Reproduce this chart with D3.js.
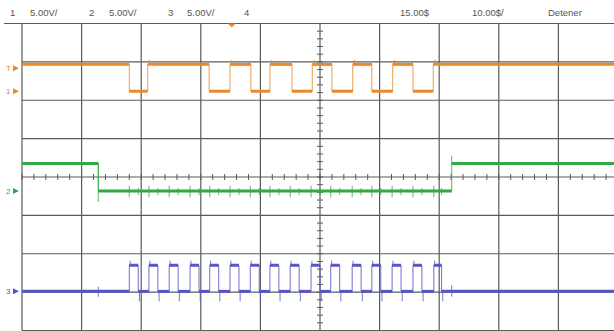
<!DOCTYPE html>
<html>
<head>
    <title>Scope capture</title>
    <script src="https://d3js.org/d3.v7.min.js"></script>
    <style>
        body { margin: 0; background: #fff; }
        .hdr { font-family: "Liberation Sans", sans-serif; font-size: 9.5px; fill: #555; }
        .grid line { stroke: #5a5a5a; stroke-width: 1.2; }
        .minor line { stroke: #5a5a5a; stroke-width: 1; }
    </style>
</head>
<body>
    <svg width="614" height="331"></svg>

    <script>
        // time in microseconds (10 us/div, delay 15.00 at screen centre)
        const ch1Edges = [-17.0, -13.9, -3.6, -0.1, 3.4, 6.6, 10.3, 13.7, 17.0, 20.5, 23.7, 27.2, 30.6, 34.0];
        const ch1High = 3.5;
        const ch2Edges = [-22.2, 37.1];
        const ch2High = 3.6;
        const ch3Rises = [-17.0, -13.7, -10.3, -6.8, -3.5, -0.1, 3.3, 6.6, 10.0, 13.5, 16.8, 20.4, 23.7, 27.1, 30.6, 34.1];
        const ch3Falls = [-15.5, -12.2, -8.8, -5.3, -2.0, 1.4, 4.8, 8.1, 11.5, 15.0, 18.3, 21.9, 25.2, 28.6, 32.1, 35.4];
        const ch3High = 3.4;
        const trigTime = 0.2;

        const header = [
            {text: "1", x: 10, color: "#aaa"},
            {text: "5.00V/", x: 30, color: "#555"},
            {text: "2", x: 89, color: "#aaa"},
            {text: "5.00V/", x: 109, color: "#555"},
            {text: "3", x: 168, color: "#aaa"},
            {text: "5.00V/", x: 187, color: "#555"},
            {text: "4", x: 244, color: "#e8508a"},
            {text: "15.00$", x: 400, color: "#555"},
            {text: "10.00$/", x: 472, color: "#555"},
            {text: "Detener", x: 548, color: "#555"}
        ];

        const svg = d3.select("svg");

        const x = d3.scaleLinear().domain([-35, 65]).range([22, 618]);
        const y = d3.scaleLinear().domain([-4, 4]).range([330.5, 23.5]);
        const vPerDiv = 5;

        // header text
        svg.selectAll("text.hdr").data(header).enter().append("text")
            .attr("class", "hdr")
            .attr("x", d => d.x).attr("y", 16)
            .attr("fill", d => d.color)
            .text(d => d.text);

        // graticule
        const grid = svg.append("g").attr("class", "grid");
        grid.selectAll("line.v").data(d3.range(-35, 66, 10)).enter().append("line")
            .attr("x1", d => x(d)).attr("x2", d => x(d))
            .attr("y1", y(4)).attr("y2", y(-4));
        grid.selectAll("line.h").data(d3.range(-4, 5, 1)).enter().append("line")
            .attr("x1", d => d === 4 ? 4 : x(-35)).attr("x2", 614)
            .attr("y1", d => y(d)).attr("y2", d => y(d));

        // minor ticks on centre axes
        const minor = svg.append("g").attr("class", "minor");
        minor.selectAll("line.mx").data(d3.range(-35, 65.1, 2)).enter().append("line")
            .attr("x1", d => x(d)).attr("x2", d => x(d))
            .attr("y1", y(0) - 3).attr("y2", y(0) + 3);
        minor.selectAll("line.my").data(d3.range(-4, 4.01, 0.2)).enter().append("line")
            .attr("x1", x(15) - 3).attr("x2", x(15) + 3)
            .attr("y1", d => y(d)).attr("y2", d => y(d));

        // build step waveform from edges
        function steps(edges, startHigh, high) {
            const pts = [];
            let level = startHigh ? high : 0;
            pts.push([-35, level]);
            edges.forEach(t => {
                pts.push([t, level]);
                level = level ? 0 : high;
                pts.push([t, level]);
            });
            pts.push([65, level]);
            return pts;
        }
        function mergeEdges(a, b) {
            return a.concat(b).sort((p, q) => p - q);
        }

        function drawTrace(pts, offset, color, spikes) {
            const g = svg.append("g");
            const line = d3.line()
                .x(d => x(d[0]))
                .y(d => y(offset + d[1] / vPerDiv));
            // thin edges
            g.append("path").datum(pts)
                .attr("d", line)
                .attr("fill", "none")
                .attr("stroke", color)
                .attr("stroke-width", 1)
                .attr("opacity", 0.85);
            // thick flat segments
            const segs = [];
            for (let i = 0; i < pts.length - 1; i++) {
                if (pts[i][1] === pts[i + 1][1]) segs.push([pts[i], pts[i + 1]]);
            }
            g.selectAll("line.seg").data(segs).enter().append("line")
                .attr("x1", d => x(d[0][0])).attr("x2", d => x(d[1][0]))
                .attr("y1", d => y(offset + d[0][1] / vPerDiv))
                .attr("y2", d => y(offset + d[1][1] / vPerDiv))
                .attr("stroke", color)
                .attr("stroke-width", 3);
            // glitch spikes
            g.selectAll("line.spk").data(spikes).enter().append("line")
                .attr("x1", d => x(d.t)).attr("x2", d => x(d.t))
                .attr("y1", d => y(offset + d.lo / vPerDiv))
                .attr("y2", d => y(offset + d.hi / vPerDiv))
                .attr("stroke", color)
                .attr("stroke-width", 1)
                .attr("opacity", 0.8);
        }

        // ch1 (orange)
        const ch1Pts = steps(ch1Edges, true, ch1High);
        const ch1Spikes = ch1Edges.filter((t, i) => i % 2 === 1).map(t => ({t: t + 0.3, lo: ch1High, hi: ch1High + 0.6}));
        drawTrace(ch1Pts, 2.235, "#e8892c", ch1Spikes);

        // ch2 (green) with crosstalk spikes on ch3 edges
        const ch2Pts = steps(ch2Edges, true, ch2High);
        const ch3All = mergeEdges(ch3Rises, ch3Falls);
        const ch2Spikes = ch3All.map((t, i) => ({t: t, lo: i % 2 ? -0.5 : -0.8, hi: i % 2 ? 0.4 : 0.7}))
            .concat([{t: ch2Edges[0], lo: -1.4, hi: ch2High}, {t: ch2Edges[1], lo: ch2High, hi: ch2High + 1.0}]);
        drawTrace(ch2Pts, -0.366, "#34a844", ch2Spikes);

        // ch3 (blue)
        const ch3Pts = [[-35, 0]];
        ch3Rises.forEach((r, i) => {
            ch3Pts.push([r, 0], [r, ch3High], [ch3Falls[i], ch3High], [ch3Falls[i], 0]);
        });
        ch3Pts.push([65, 0]);
        const ch3Spikes = ch3Falls.map(t => ({t: t + 0.2, lo: -1.3, hi: 0}))
            .concat(ch3Rises.map(t => ({t: t + 0.15, lo: ch3High, hi: ch3High + 0.6})))
            .concat([{t: ch2Edges[0], lo: -0.7, hi: 0.6}, {t: ch2Edges[1], lo: -0.7, hi: 0.8}]);
        drawTrace(ch3Pts, -2.98, "#5656c6", ch3Spikes);

        // left channel markers
        const markers = [
            {label: "T", level: 2.235 + ch1High / vPerDiv - 0.1, color: "#e8892c"},
            {label: "1", level: 2.235, color: "#e8892c"},
            {label: "2", level: -0.366, color: "#34a844"},
            {label: "3", level: -2.98, color: "#5656c6"}
        ];
        const mk = svg.append("g").selectAll("g").data(markers).enter().append("g")
            .attr("transform", d => `translate(0,${y(d.level)})`);
        mk.append("text")
            .attr("x", 6).attr("y", 3)
            .attr("font-family", "Liberation Sans, sans-serif")
            .attr("font-size", 8)
            .attr("fill", d => d.color)
            .text(d => d.label);
        mk.append("path")
            .attr("d", "M13,-3L19,0L13,3Z")
            .attr("fill", d => d.color);

        // trigger position marker on top edge
        svg.append("path")
            .attr("d", `M${x(trigTime) - 4},${y(4)}L${x(trigTime) + 4},${y(4)}L${x(trigTime)},${y(4) + 4}Z`)
            .attr("fill", "#e8892c");
    </script>
</body>
</html>
